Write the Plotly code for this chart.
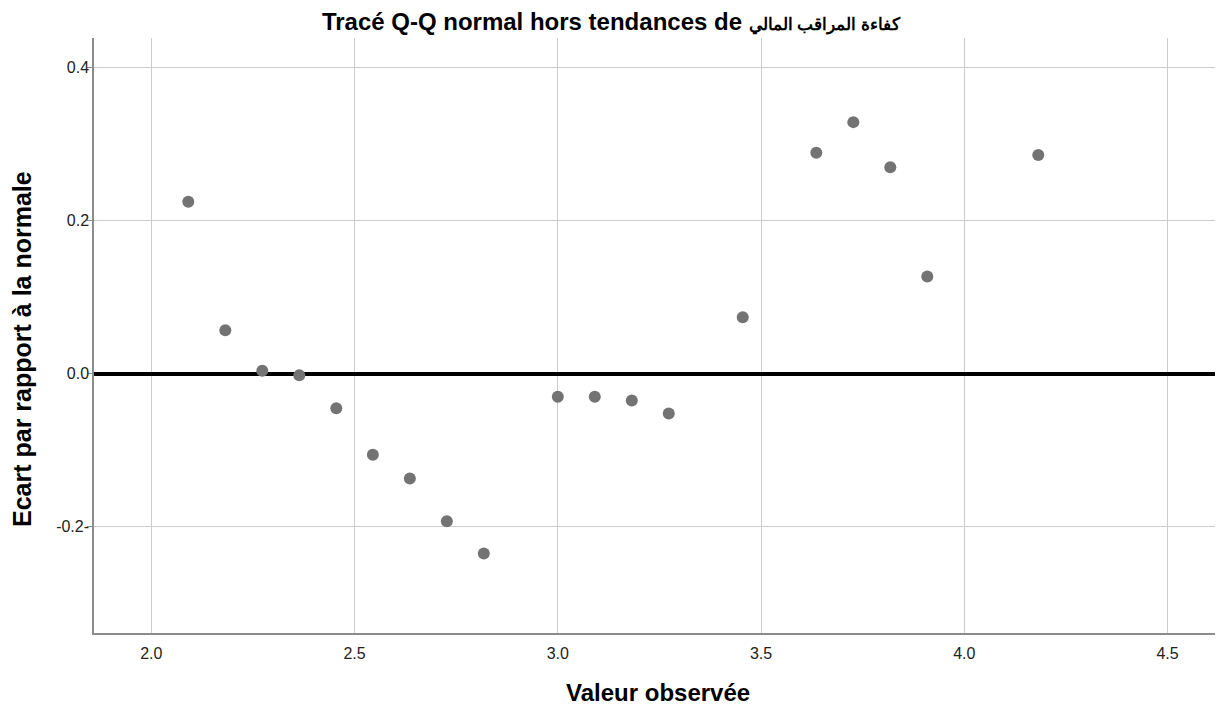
import plotly.graph_objects as go

# Observed values (x) and deviation from normal (y)
observed = [2.091, 2.182, 2.273, 2.364, 2.455, 2.545, 2.636, 2.727, 2.818,
            3.000, 3.091, 3.182, 3.273, 3.455, 3.636, 3.727, 3.818, 3.909, 4.182]
deviation = [0.225, 0.057, 0.004, -0.002, -0.045, -0.106, -0.137, -0.193, -0.235,
             -0.030, -0.030, -0.035, -0.052, 0.074, 0.289, 0.329, 0.270, 0.127, 0.286]

x_ticks = [2.0, 2.5, 3.0, 3.5, 4.0, 4.5]
x_ticklabels = ["2.0", "2.5", "3.0", "3.5", "4.0", "4.5"]
y_ticks = [-0.2, 0.0, 0.2, 0.4]
y_ticklabels = ["-0.2-", "0.0", "0.2", "0.4"]

title_latin = "Tracé Q-Q normal hors tendances de"
title_arabic = "كفاءة المراقب المالي"
x_title = "Valeur observée"
y_title = "Ecart par rapport à la normale"

FONT = "Liberation Sans, Arial, sans-serif"
# page body has an 8px margin: figure occupies window area from (8, 8)
OFF = 8
W, H = 1223 - OFF, 708 - OFF
ML, MR, MT, MB = 94 - OFF, 1, 38 - OFF, 75
PW, PH = W - ML - MR, H - MT - MB

fig = go.Figure()
fig.add_trace(go.Scatter(
    x=observed, y=deviation, mode="markers",
    marker=dict(size=12, color="#737373", line=dict(width=0)),
    showlegend=False, hoverinfo="x+y",
))

title_html = ("<b>" + title_latin + " <span style='font-size:17px'>" + title_arabic + "</span></b>")

fig.update_layout(
    width=W, height=H,
    paper_bgcolor="white", plot_bgcolor="white",
    margin=dict(l=ML, r=MR, t=MT, b=MB, autoexpand=False),
    font=dict(family=FONT, color="#222222", size=16),
    title=dict(text=title_html, x=(611 - OFF) / W, xref="container", xanchor="center",
               y=1 - (21.5 - OFF) / H, yref="container", yanchor="middle",
               font=dict(family=FONT, size=24, color="#000000")),
    xaxis=dict(
        range=[1.859, 4.634], tickvals=x_ticks, ticktext=x_ticklabels,
        showgrid=True, gridcolor="#cccccc", gridwidth=1,
        showline=True, linecolor="#8c8c8c", linewidth=1.5,
        ticks="", ticklabelstandoff=5,
        zeroline=False, automargin=False,
        tickfont=dict(family=FONT, size=16, color="#222222"),
    ),
    yaxis=dict(
        range=[-0.339, 0.439], tickvals=y_ticks, ticktext=y_ticklabels,
        showgrid=True, gridcolor="#cccccc", gridwidth=1,
        showline=True, linecolor="#8c8c8c", linewidth=1.5,
        ticks="outside", ticklen=5, tickcolor="#8c8c8c",
        ticklabelstandoff=-5,
        zeroline=True, zerolinecolor="#000000", zerolinewidth=3.5,
        automargin=False,
        tickfont=dict(family=FONT, size=16, color="#222222"),
    ),
    annotations=[
        dict(text="<b>" + x_title + "</b>", xref="paper", yref="paper",
             x=0.5, y=-(692 - (708 - MB)) / PH, xanchor="center", yanchor="middle",
             showarrow=False, font=dict(family=FONT, size=24, color="#000000")),
        dict(text="<b>" + y_title + "</b>", xref="paper", yref="paper",
             x=(22 - OFF - ML) / PW, y=((708 - MB) - 349) / PH, xanchor="center", yanchor="middle",
             textangle=-90, showarrow=False,
             font=dict(family=FONT, size=25, color="#000000")),
    ],
)

fig.write_html("out.html")
